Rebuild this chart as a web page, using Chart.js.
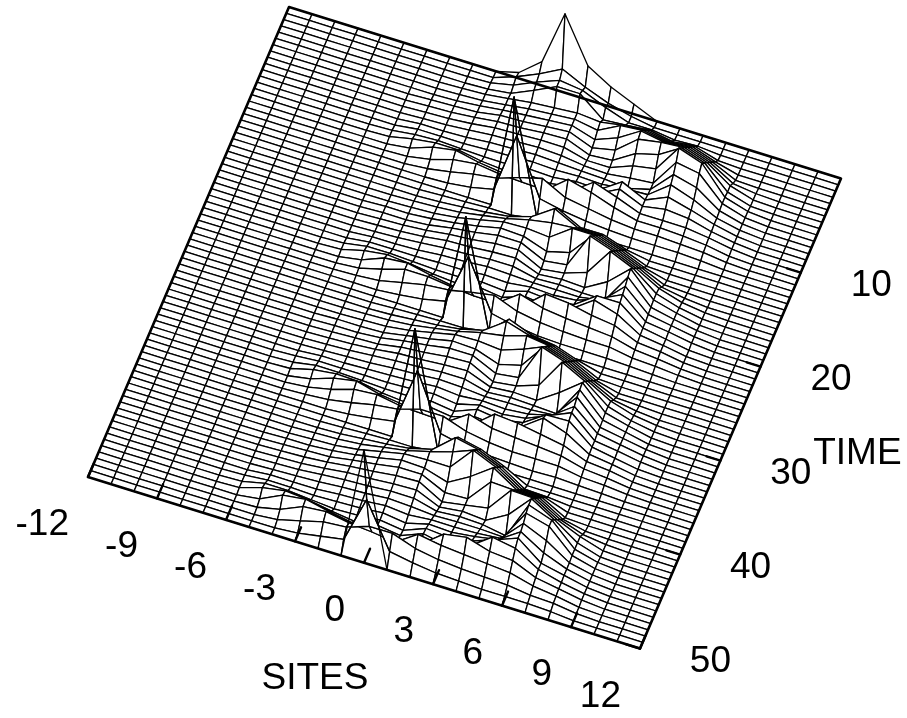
<!DOCTYPE html>
<html>
<head>
<meta charset="utf-8">
<style>
  html, body { margin: 0; padding: 0; background: #fff; }
  canvas { display: block; }
</style>
<script src="https://cdn.jsdelivr.net/npm/chart.js@4"></script>
</head>
<body>
<canvas id="surface" width="907" height="718"></canvas>
<script>
// site axis -12..12, one column per site
const sites = [-12,-11,-10,-9,-8,-7,-6,-5,-4,-3,-2,-1,0,1,2,3,4,5,6,7,8,9,10,11,12];
const siteTicks = [-12,-9,-6,-3,0,3,6,9,12];
const timeTicks = [10,20,30,40,50];

// heights, row by row from the front edge (time 50) backwards
const pulseA = [
  [0,0,0,0,0,0, 0,0,0,0,0,0,113,0,0,0,0,0,0,0,0,0, 0,0,0],
  [0,0,0,0,0,0, 0,0,0,2,6,10,57,12,8,5,4,3,3,3,2,0, 0,0,0],
  [0,0,0,0,0,0, 0,0,2,8,14,16,24,24,16,12,10,9,8,5,4,1, 0,0,0],
  [0,0,0,0,0,0, 0,1,6,16,18,14,12,9,24,20,18,16,14,8,5,1, 0,0,0],
  [0,0,0,0,0,0, 0,3,14,17,12,8,9,5,8,25,29,22,20,10,6,2, 0,0,0],
  [0,0,0,0,0,0, 1,8,12,10,6,3,6,3,12,7,14,30,26,12,6,2, 0,0,0],
  [0,0,0,0,0,0, 1,6,6,4,2,3,5,2,11,9,13,21,30,12,7,2, 0,0,0],
  [0,0,0,0,0,0, 1,3,3,2,3,4,6,3,9,8,11,15,30,16,7,2, 0,0,0],
  [0,0,0,0,0,0, 0,2,2,2,4,5,7,5,7,7,8,10,32,22,7,2, 0,0,0],
  [0,0,0,0,0,0, 0,1,2,3,5,6,8,7,5,6,6,5,36,30,8,2, 0,0,0],
  [0,0,0,0,0,0, 0,1,2,4,6,7,9,9,3,5,4,0,38,30,8,2, 0,0,0],
  [0,0,0,0,0,0, 0,1,2,4,7,8,10,11,1,4,2,15,38,24,8,1, 0,0,0],
  [0,0,0,0,0,0, 0,1,2,4,7,9,12,13,0,4,8,33,32,18,8,1, 0,0,0],
  [0,0,0,0,0,0, 0,1,2,3,7,10,14,14,3,4,28,27,26,12,4,1, 0,0,0],
  [0,0,0,0,0,0, 0,1,1,3,6,10,15,14,7,20,36,21,20,6,1,0, 0,0,0],
  [0,0,0,0,0,0, 0,0,1,2,5,10,15,16,16,40,30,15,14,1,0,0, 0,0,0],
  [0,0,0,0,0,0, 0,0,1,2,4,8,12,18,25,34,24,9,8,0,0,0, 0,0,0],
  [0,0,0,0,0,0, 0,0,0,1,3,5,8,14,33,28,18,3,2,0,0,0, 0,0,0],
  [0,0,0,0,0,0, 0,0,0,1,2,3,3,6,27,22,12,0,0,0,0,0, 0,0,0]
];
const pulseB = [
  [0,0,0,0,0,0, 0,0,0,0,0,0,115,0,0,0,0,0,0,0,0,0, 0,0,0],
  [0,0,0,0,0,0, 0,0,0,2,5,9,67,11,6,4,3,2,3,2,1,0, 0,0,0],
  [0,0,0,0,0,0, 0,1,3,7,12,15,22,22,14,10,8,8,8,4,3,1, 0,0,0],
  [0,0,0,0,0,0, 0,2,7,14,16,12,11,10,25,18,16,14,12,6,4,1, 0,0,0],
  [0,0,0,0,0,0, 0,4,12,16,10,7,8,6,8,26,24,20,16,7,5,1, 0,0,0],
  [0,0,0,0,0,0, 1,7,10,9,5,3,6,3,10,8,14,30,22,8,5,1, 0,0,0],
  [0,0,0,0,0,0, 1,5,5,4,3,3,5,2,11,8,12,27,28,9,5,1, 0,0,0],
  [0,0,0,0,0,0, 1,3,3,3,3,4,6,3,9,7,10,20,30,9,6,2, 0,0,0],
  [0,0,0,0,0,0, 0,2,2,3,4,5,7,5,7,6,8,14,30,10,6,2, 0,0,0],
  [0,0,0,0,0,0, 0,1,2,3,5,6,8,7,5,6,6,8,33,10,6,2, 0,0,0],
  [0,0,0,0,0,0, 0,1,2,4,6,7,9,9,3,5,4,3,34,11,6,1, 0,0,0],
  [0,0,0,0,0,0, 0,1,2,4,7,8,10,11,2,4,3,18,35,12,6,1, 0,0,0],
  [0,0,0,0,0,0, 0,1,2,3,7,9,12,13,1,4,12,42,30,12,5,1, 0,0,0],
  [0,0,0,0,0,0, 0,1,1,3,7,10,14,14,3,6,44,36,24,11,4,1, 0,0,0],
  [0,0,0,0,0,0, 0,1,1,2,6,10,15,14,6,12,38,30,18,6,2,0, 0,0,0],
  [0,0,0,0,0,0, 0,0,1,2,5,10,15,16,14,22,32,24,12,2,1,0, 0,0,0],
  [0,0,0,0,0,0, 0,0,1,2,4,8,12,18,22,29,26,18,6,0,0,0, 0,0,0],
  [0,0,0,0,0,0, 0,0,0,1,3,5,8,14,30,23,20,12,1,0,0,0, 0,0,0],
  [0,0,0,0,0,0, 0,0,0,1,2,3,3,7,26,17,14,6,0,0,0,0, 0,0,0]
];
const pulseC = [
  [0,0,0,0,0,0, 0,0,0,0,0,0,108,0,0,0,0,0,0,0,0,0, 0,0,0],
  [0,0,0,0,0,0, 0,0,0,2,5,10,62,12,7,4,3,3,3,2,1,0, 0,0,0],
  [0,0,0,0,0,0, 0,1,3,8,13,15,20,24,15,11,9,8,8,4,3,1, 0,0,0],
  [0,0,0,0,0,0, 0,2,8,15,15,12,10,10,26,19,16,14,12,6,4,1, 0,0,0],
  [0,0,0,0,0,0, 0,4,13,15,10,6,8,6,8,27,25,20,17,7,5,1, 0,0,0],
  [0,0,0,0,0,0, 1,7,10,8,5,3,6,3,11,8,13,29,22,8,5,1, 0,0,0],
  [0,0,0,0,0,0, 1,5,5,4,3,3,5,3,10,8,11,27,27,9,5,1, 0,0,0],
  [0,0,0,0,0,0, 0,3,3,3,4,4,6,5,8,7,9,18,29,9,6,2, 0,0,0],
  [0,0,0,0,0,0, 0,2,2,3,5,6,8,7,6,6,6,10,31,10,6,2, 0,0,0],
  [0,0,0,0,0,0, 0,1,2,4,6,7,9,9,4,5,4,4,34,11,6,2, 0,0,0],
  [0,0,0,0,0,0, 0,1,2,4,7,8,10,11,2,4,3,16,36,12,6,1, 0,0,0],
  [0,0,0,0,0,0, 0,1,2,4,7,9,12,13,1,4,12,40,30,12,5,1, 0,0,0],
  [0,0,0,0,0,0, 0,1,1,3,7,10,14,14,3,6,42,34,24,11,4,1, 0,0,0],
  [0,0,0,0,0,0, 0,1,1,3,6,10,15,14,6,12,36,28,18,6,2,0, 0,0,0],
  [0,0,0,0,0,0, 0,0,1,2,5,10,15,16,14,30,30,22,12,2,1,0, 0,0,0],
  [0,0,0,0,0,0, 0,0,1,2,4,8,12,18,22,24,24,16,6,0,0,0, 0,0,0],
  [0,0,0,0,0,0, 0,0,0,1,3,5,8,15,30,18,18,10,1,0,0,0, 0,0,0],
  [0,0,0,0,0,0, 0,0,0,1,2,3,3,7,24,12,12,4,0,0,0,0, 0,0,0]
];
const pulseD = [
  [0,0,0,0,0,0, 0,0,0,0,0,0,115,0,0,0,0,0,0,0,0,0, 0,0,0],
  [0,0,0,0,0,0, 0,0,0,1,4,9,70,14,9,6,4,3,3,3,2,0, 0,0,0],
  [0,0,0,0,0,0, 0,0,2,6,11,14,22,28,16,12,8,6,6,5,4,1, 0,0,0],
  [0,0,0,0,0,0, 0,1,5,12,15,12,11,10,28,22,14,8,8,7,5,1, 0,0,0],
  [0,0,0,0,0,0, 0,3,11,15,10,7,8,4,10,26,18,9,9,9,6,2, 0,0,0],
  [0,0,0,0,0,0, 1,6,9,9,5,3,6,4,8,8,20,10,14,12,6,2, 0,0,0],
  [0,0,0,0,0,0, 1,4,5,4,3,3,5,4,7,6,21,10,20,14,7,2, 0,0,0],
  [0,0,0,0,0,0, 0,3,3,3,4,5,6,5,6,5,8,9,26,18,7,2, 0,0,0],
  [0,0,0,0,0,0, 0,2,2,3,5,6,7,6,5,4,2,8,30,24,8,2, 0,0,0],
  [0,0,0,0,0,0, 0,1,2,4,6,7,8,7,4,3,6,8,36,32,9,2, 0,0,0],
  [0,0,0,0,0,0, 0,1,2,4,7,8,9,9,3,3,12,16,44,36,9,2, 0,0,0],
  [0,0,0,0,0,0, 0,1,2,4,7,8,10,11,2,4,18,24,38,30,8,1, 0,0,0],
  [0,0,0,0,0,0, 0,1,2,3,7,8,10,12,3,8,26,30,32,24,8,1, 0,0,0],
  [0,0,0,0,0,0, 0,0,1,3,6,8,10,12,5,14,28,24,26,18,4,1, 0,0,0],
  [0,0,0,0,0,0, 0,0,1,2,5,8,10,12,8,20,22,18,20,12,1,0, 0,0,0],
  [0,0,0,0,0,0, 0,0,1,2,5,8,10,12,10,14,16,12,14,6,0,0, 0,0,0],
  [0,0,0,0,0,0, 0,0,0,1,4,14,25,25,6,8,10,6,8,1,0,0, 0,0,0],
  [0,0,0,0,0,0, 0,0,0,1,6,16,25,22,12,4,4,1,2,0,0,0, 0,0,0],
  [0,0,0,0,0,0, 0,0,0,0,8,18,30,19,10,4,0,0,0,0,0,0, 0,0,0]
];
const backRow = [0,0,0,0,0,0, 0,0,0,0,6,24,79,34,20,10,0,0,0,0,0,0, 0,0,0];
const surfaceRows = [...pulseA, ...pulseB, ...pulseC, ...pulseD, backRow];

const TIME_MAX = 50;
const TIME_STEP = TIME_MAX / (surfaceRows.length - 1);
const SPIKE_COLUMN = sites.indexOf(0);
const spikeStarts = [0, pulseA.length, pulseA.length + pulseB.length, pulseA.length + pulseB.length + pulseC.length];

// oblique view of the base plane, result is in axis units (same as canvas pixels)
function project(site, time, height) {
    const a = site + 12;
    const u = TIME_MAX - time;
    return {
        x: 88 + 23 * a + 4.02 * u,
        y: 477 + 7.15 * a - 9.4 * u - height
    };
}

function rowTime(r) {
    return TIME_MAX - r * TIME_STEP;
}

function cellPoints(r, c) {
    return [
        project(sites[c], rowTime(r), surfaceRows[r][c]),
        project(sites[c + 1], rowTime(r), surfaceRows[r][c + 1]),
        project(sites[c + 1], rowTime(r + 1), surfaceRows[r + 1][c + 1]),
        project(sites[c], rowTime(r + 1), surfaceRows[r + 1][c]),
        project(sites[c], rowTime(r), surfaceRows[r][c])
    ];
}

// the spikes are see-through in the picture, rows behind them stay visible
function isSpikeCell(r, c) {
    if (c !== SPIKE_COLUMN && c !== SPIKE_COLUMN - 1) return false;
    return spikeStarts.includes(r) || spikeStarts.includes(r + 1);
}

function edgeLine(points, width) {
    return {
        data: points,
        showLine: true,
        borderColor: '#000',
        borderWidth: width,
        pointRadius: 0,
        fill: false,
        borderCapStyle: 'round',
        borderJoinStyle: 'round'
    };
}

const datasets = [];

// first dataset is painted last, so box and ticks go in first
const box = [
    project(-12, 50, 0), project(12, 50, 0), project(12, 0, 0),
    project(-12, 0, 0), project(-12, 50, 0)
];
datasets.push(edgeLine(box, 2.6));
siteTicks.forEach(s => {
    datasets.push(edgeLine([project(s, 50, 0), project(s, 48.5, 0)], 2.4));
});
timeTicks.forEach(t => {
    datasets.push(edgeLine([project(12, t, 0), project(11.4, t, 0)], 2.4));
});

// cells nearest the viewer first, so the ones behind are hidden by the white fill
for (let r = 0; r < surfaceRows.length - 1; r++) {
    for (let c = sites.length - 2; c >= 0; c--) {
        datasets.push({
            data: cellPoints(r, c),
            showLine: true,
            borderColor: '#000',
            borderWidth: 1.3,
            backgroundColor: isSpikeCell(r, c) ? 'rgba(255,255,255,0)' : '#fff',
            fill: 'shape',
            pointRadius: 0,
            borderJoinStyle: 'round'
        });
    }
}

const FONT = '37px "Liberation Sans", Arial, sans-serif';

const axisText = {
    id: 'axisText',
    afterDraw(chart) {
        const ctx = chart.ctx;
        const xs = chart.scales.x;
        const ys = chart.scales.y;
        ctx.save();
        ctx.fillStyle = '#000';
        ctx.font = FONT;
        ctx.textBaseline = 'middle';
        const put = (p, dx, dy, text, align) => {
            ctx.textAlign = align;
            ctx.fillText(text, xs.getPixelForValue(p.x) + dx, ys.getPixelForValue(p.y) + dy);
        };
        siteTicks.forEach(s => put(project(s, 50, 0), -19, 48, String(s), 'right'));
        timeTicks.forEach(t => put(project(12, t, 0), 91, 13, String(t), 'right'));
        put(project(0, 50, 0), -49, 116, 'SITES', 'center');
        put(project(12, 30, 0), 137, -7, 'TIME', 'center');
        ctx.restore();
    }
};

new Chart(document.getElementById('surface'), {
    type: 'scatter',
    data: { datasets: datasets },
    plugins: [axisText],
    options: {
        responsive: false,
        animation: false,
        devicePixelRatio: 1,
        layout: { padding: 0 },
        plugins: {
            legend: { display: false },
            tooltip: { enabled: false },
            title: { display: false }
        },
        scales: {
            x: { type: 'linear', min: 0, max: 907, display: false },
            y: { type: 'linear', min: 0, max: 718, reverse: true, display: false }
        }
    }
});
</script>
</body>
</html>
